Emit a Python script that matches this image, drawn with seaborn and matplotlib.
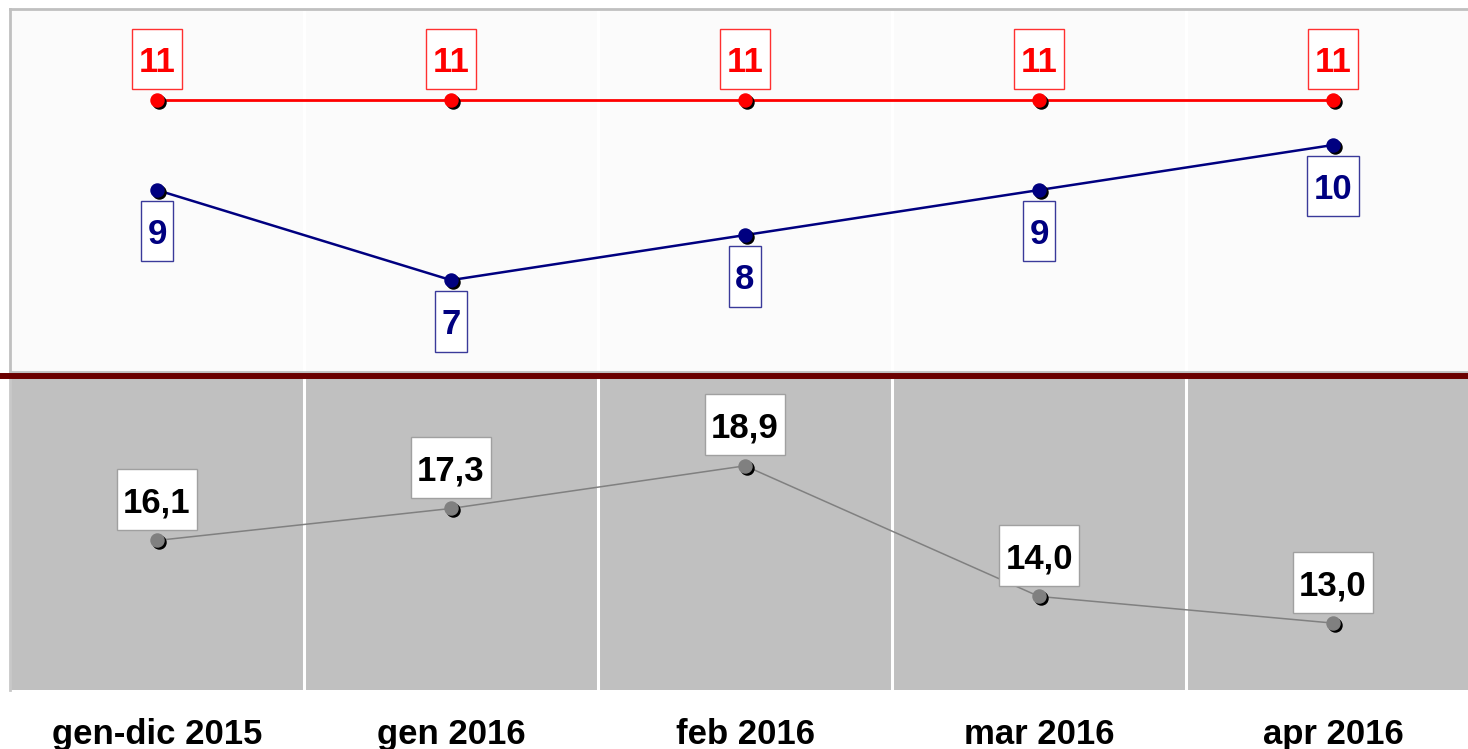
import numpy as np
import pandas as pd
import matplotlib
matplotlib.use("Agg")
import matplotlib.pyplot as plt
import seaborn as sns
from matplotlib.path import Path
from matplotlib.lines import Line2D
from matplotlib.transforms import ScaledTranslation

# dati
periodi = ['gen-dic 2015', 'gen 2016', 'feb 2016', 'mar 2016', 'apr 2016']
serie_rossa = [11, 11, 11, 11, 11]
serie_blu = [9, 7, 8, 9, 10]
serie_grigia = [16.1, 17.3, 18.9, 14.0, 13.0]

sns.set_style('white')
plt.rcParams['font.family'] = ['Liberation Sans', 'DejaVu Sans']

df = pd.DataFrame({
    'pos': np.arange(len(periodi)),
    'periodo': periodi,
    'rossa': serie_rossa,
    'blu': serie_blu,
    'grigia': serie_grigia,
})

W, H = 1468, 749
fig = plt.figure(figsize=(W / 100, H / 100), dpi=100)
fig.patch.set_facecolor('white')

ax_top = fig.add_axes([10 / W, (H - 372) / H, 1470 / W, 363 / H])
ax_bot = fig.add_axes([10 / W, (H - 690) / H, 1470 / W, 314 / H])


def box_alto(x0, y0, width, height, mutation_size):
    # riquadro con piu' spazio sopra e sotto che ai lati
    px = 0.18 * mutation_size
    pt = 0.50 * mutation_size
    pb = 0.30 * mutation_size
    x1, y1 = x0 - px, y0 - pb
    x2, y2 = x0 + width + px, y0 + height + pt
    return Path([(x1, y1), (x2, y1), (x2, y2), (x1, y2), (x1, y1)], closed=True)


def disegna(ax, col, colore, lw, testo_col, bordo_col, sopra, fmt):
    sns.lineplot(data=df, x='pos', y=col, ax=ax, color=colore, lw=lw,
                 sort=False, zorder=3)
    ombra = ax.transData + ScaledTranslation(2 / 100, -2 / 100, fig.dpi_scale_trans)
    ax.plot(df['pos'], df[col], 'o', color='black', ms=9.4, transform=ombra,
            zorder=4)
    ax.plot(df['pos'], df[col], 'o', color=colore, ms=9.4, zorder=5)
    for i, v in zip(df['pos'], df[col]):
        if sopra:
            off, va = 21, 'bottom'
        else:
            off, va = -28, 'top'
        ax.annotate(fmt(v), xy=(i, v), xytext=(0, off), textcoords='offset pixels',
                    ha='center', va=va, fontsize=25, fontweight='bold',
                    color=testo_col, zorder=6,
                    bbox=dict(boxstyle=box_alto, fc='white', ec=bordo_col, lw=1.0))


disegna(ax_top, 'rossa', '#ff0000', 2.0, '#ff0000', '#ff3030', True, lambda v: f'{v:d}')
disegna(ax_top, 'blu', '#000080', 1.8, '#000080', '#3a3a9a', False, lambda v: f'{v:d}')
disegna(ax_bot, 'grigia', '#808080', 1.1, 'black', '#a0a0a0', True,
        lambda v: f'{v:.1f}'.replace('.', ','))

for ax in (ax_top, ax_bot):
    ax.set_xlim(-0.5, len(periodi) - 0.5)
    ax.set_xlabel('')
    ax.set_ylabel('')
    ax.set_yticks([])
    ax.set_xticks(np.arange(len(periodi) - 1) + 0.5, minor=True)
    ax.grid(False)
    ax.grid(True, which='minor', axis='x', color='white', lw=2.2)

ax_top.set_ylim(4.96, 13.02)
ax_top.set_facecolor('#fbfbfb')
ax_top.set_xticks([])
for s in ax_top.spines.values():
    s.set_color('#c0c0c0')
    s.set_linewidth(2.0)

ax_bot.set_ylim(10.49, 22.27)
ax_bot.set_facecolor('#c0c0c0')
for s in ax_bot.spines.values():
    s.set_visible(False)
ax_bot.spines['left'].set_visible(True)
ax_bot.spines['left'].set_color('#c8c8c8')
ax_bot.spines['left'].set_linewidth(2.0)
ax_bot.set_xticks(df['pos'])
ax_bot.set_xticklabels(periodi, fontsize=25, fontweight='bold', color='black')
ax_bot.tick_params(axis='x', which='both', length=0, pad=20)

# linea di separazione tra i due pannelli
fig.add_artist(Line2D([0, 1], [(H - 376) / H] * 2, transform=fig.transFigure,
                      color='#6b0000', lw=4.3, zorder=10))

fig.savefig('out.png', dpi=100)
